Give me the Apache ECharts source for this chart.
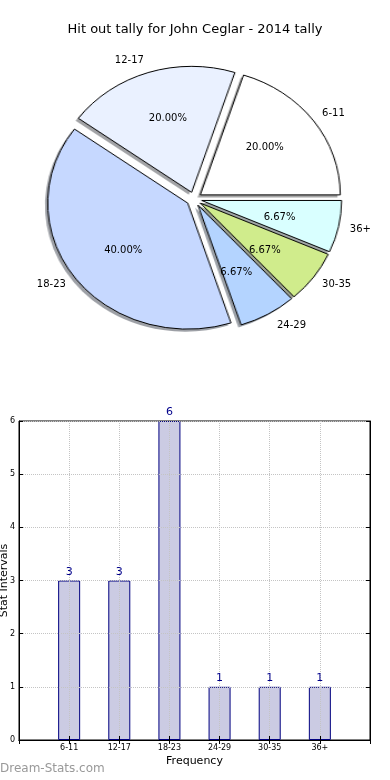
<!DOCTYPE html>
<html>
<head>
<meta charset="utf-8">
<script src="https://cdn.jsdelivr.net/npm/echarts@6/dist/echarts.min.js"></script>
<style>
html,body{margin:0;padding:0;background:#fff;}
#wrap{position:relative;width:390px;height:780px;overflow:hidden;}
#pie{position:absolute;left:0;top:0;width:390px;height:400px;z-index:1;
  transform-origin:194px 199px;transform:scaleX(1.111);}
#main{position:absolute;left:0;top:0;width:390px;height:780px;z-index:2;}
</style>
</head>
<body>
<div id="wrap">
<div id="pie"></div>
<div id="main"></div>
</div>
<script>
var titleText = 'Hit out tally for John Ceglar - 2014 tally';
var categories = ['6-11', '12-17', '18-23', '24-29', '30-35', '36+'];
var counts = [3, 3, 6, 1, 1, 1];
var sliceColors = ['#ffffff', '#eaf1ff', '#c6d8ff', '#b4d4ff', '#d0ec8c', '#d9ffff'];
var yTicks = [0, 1, 2, 3, 4, 5, 6];
var xAxisName = 'Frequency';
var yAxisName = 'Stat Intervals';
var watermark = 'Dream-Stats.com';

var total = counts.reduce(function (a, b) { return a + b; }, 0);
var font = 'DejaVu Sans';
var pieCenter = [194, 199];
var R = 126;
var offset = 7;
// the original pie is elliptical; slices near the vertical get labels set a bit closer
var nearVertical = { '12-17': true, '24-29': true };
var nameLabelGap = { '12-17': 5, '36+': 13 };

function shadowColor(hex) {
  var n = parseInt(hex.slice(1), 16);
  var r = Math.round(((n >> 16) & 255) * 0.3);
  var g = Math.round(((n >> 8) & 255) * 0.3);
  var b = Math.round((n & 255) * 0.3);
  return 'rgba(' + r + ',' + g + ',' + b + ',0.5)';
}

function pieData(mode, labelFilter) {
  return categories.map(function (c, i) {
    var color = mode === 'fill' ? sliceColors[i] : (mode === 'shadow' ? shadowColor(sliceColors[i]) : 'transparent');
    var d = { name: c, value: counts[i], selected: true, itemStyle: { color: color } };
    if (labelFilter) {
      d.label = labelFilter(c);
    }
    return d;
  });
}

var baseOuter = {
  type: 'pie',
  center: pieCenter,
  startAngle: 0,
  clockwise: false,
  selectedMode: 'multiple',
  selectedOffset: offset,
  avoidLabelOverlap: false,
  silent: true,
  labelLine: { show: false },
  emphasis: { disabled: true },
  animation: false
};

var pieOption = {
  animation: false,
  backgroundColor: 'transparent',
  series: [
    Object.assign({}, baseOuter, {
      name: 'shadow',
      center: [pieCenter[0] - 2.5, pieCenter[1] + 2.5],
      radius: [0, R],
      data: pieData('shadow'),
      itemStyle: { borderWidth: 0 },
      label: { show: false },
      z: 1
    }),
    Object.assign({}, baseOuter, {
      name: 'pie',
      radius: [0, R],
      data: pieData('fill'),
      itemStyle: { borderColor: '#000', borderWidth: 1 },
      select: { itemStyle: { borderColor: '#000', borderWidth: 1 } },
      label: { show: false },
      z: 2
    })
  ]
};

var pctLabel = {
  show: true,
  position: 'inside',
  fontFamily: font,
  fontSize: 10,
  color: '#000',
  formatter: function (p) { return (p.value / total * 100).toFixed(2) + '%'; }
};

var option = {
  animation: false,
  backgroundColor: 'transparent',
  title: {
    text: titleText,
    left: 'center',
    top: 18,
    textStyle: { fontFamily: font, fontSize: 13, fontWeight: 'normal', color: '#000' }
  },
  graphic: [{
    type: 'text',
    left: 0,
    top: 763,
    style: { text: watermark, fill: '#999999', font: '12px "DejaVu Sans"' }
  }],
  grid: {
    left: 19, right: 20, top: 421, bottom: 40,
    outerBoundsMode: 'none',
    containLabel: false,
    show: true, borderColor: '#000', borderWidth: 1, backgroundColor: 'transparent'
  },
  xAxis: [{
    type: 'category',
    data: [''].concat(categories).concat(['']),
    boundaryGap: false,
    z: 5,
    name: xAxisName,
    nameLocation: 'middle',
    nameGap: 16,
    nameMoveOverlap: false,
    nameTextStyle: { fontFamily: font, fontSize: 11, color: '#000' },
    axisLine: { lineStyle: { color: '#000' } },
    axisTick: { inside: true, length: 4, lineStyle: { color: '#000' } },
    axisLabel: { fontFamily: font, fontSize: 8, color: '#000', margin: 4, interval: 0 },
    splitLine: { show: true, lineStyle: { color: '#c4c4c4', type: 'dotted', width: 1 } }
  }, {
    type: 'category',
    position: 'top',
    data: [''].concat(categories).concat(['']),
    boundaryGap: false,
    z: 5,
    axisLine: { lineStyle: { color: '#000' } },
    axisTick: { inside: true, length: 4, lineStyle: { color: '#000' } },
    axisLabel: { show: false },
    splitLine: { show: false }
  }],
  yAxis: [{
    type: 'value',
    min: yTicks[0], max: yTicks[yTicks.length - 1], interval: 1,
    z: 5,
    name: yAxisName,
    nameLocation: 'middle',
    nameGap: 9,
    nameRotate: 90,
    nameMoveOverlap: false,
    nameTextStyle: { fontFamily: font, fontSize: 11, color: '#000' },
    axisLine: { show: true, lineStyle: { color: '#000' } },
    axisTick: { show: true, inside: true, length: 4, lineStyle: { color: '#000' } },
    axisLabel: { fontFamily: font, fontSize: 8, color: '#000', margin: 4 },
    splitLine: { show: true, lineStyle: { color: '#c4c4c4', type: 'dotted', width: 1 } }
  }, {
    type: 'value',
    position: 'right',
    min: yTicks[0], max: yTicks[yTicks.length - 1], interval: 1,
    z: 5,
    axisLine: { show: true, lineStyle: { color: '#000' } },
    axisTick: { show: true, inside: true, length: 4, lineStyle: { color: '#000' } },
    axisLabel: { show: false },
    splitLine: { show: false }
  }],
  series: [
    Object.assign({}, baseOuter, {
      name: 'pct-a',
      radius: [29, R],
      data: pieData('none', function (c) { return { show: !nearVertical[c] }; }),
      itemStyle: { borderWidth: 0 },
      label: pctLabel
    }),
    Object.assign({}, baseOuter, {
      name: 'pct-b',
      radius: [23, R],
      data: pieData('none', function (c) { return { show: !!nearVertical[c] }; }),
      itemStyle: { borderWidth: 0 },
      label: pctLabel
    }),
    Object.assign({}, baseOuter, {
      name: 'names',
      radius: [0, R],
      data: pieData('none', function (c) {
        return nameLabelGap[c] != null ? { distanceToLabelLine: nameLabelGap[c] } : {};
      }),
      itemStyle: { borderWidth: 0 },
      labelLine: { show: false, length: 13, length2: 0 },
      label: {
        show: true,
        position: 'outside',
        distanceToLabelLine: 10,
        fontFamily: font,
        fontSize: 10,
        color: '#000',
        formatter: '{b}'
      }
    }),
    {
      type: 'bar',
      name: 'bars',
      xAxisIndex: 0,
      yAxisIndex: 0,
      data: [null].concat(counts).concat([null]),
      barWidth: 22,
      z: 2,
      itemStyle: { color: '#cbcbe3', borderColor: '#000080', borderWidth: 1 },
      label: { show: false },
      silent: true
    },
    {
      type: 'bar',
      name: 'values',
      xAxisIndex: 0,
      yAxisIndex: 0,
      data: [null].concat(counts).concat([null]),
      barWidth: 22,
      barGap: '-100%',
      z: 8,
      itemStyle: { color: 'transparent', borderWidth: 0 },
      label: {
        show: true,
        position: 'top',
        distance: 3,
        fontFamily: font,
        fontSize: 11,
        color: '#00008b'
      },
      silent: true
    }
  ]
};

var pieChart = echarts.init(document.getElementById('pie'), null, { renderer: 'canvas' });
pieChart.setOption(pieOption);
var chart = echarts.init(document.getElementById('main'), null, { renderer: 'canvas' });
chart.setOption(option);
</script>
</body>
</html>
